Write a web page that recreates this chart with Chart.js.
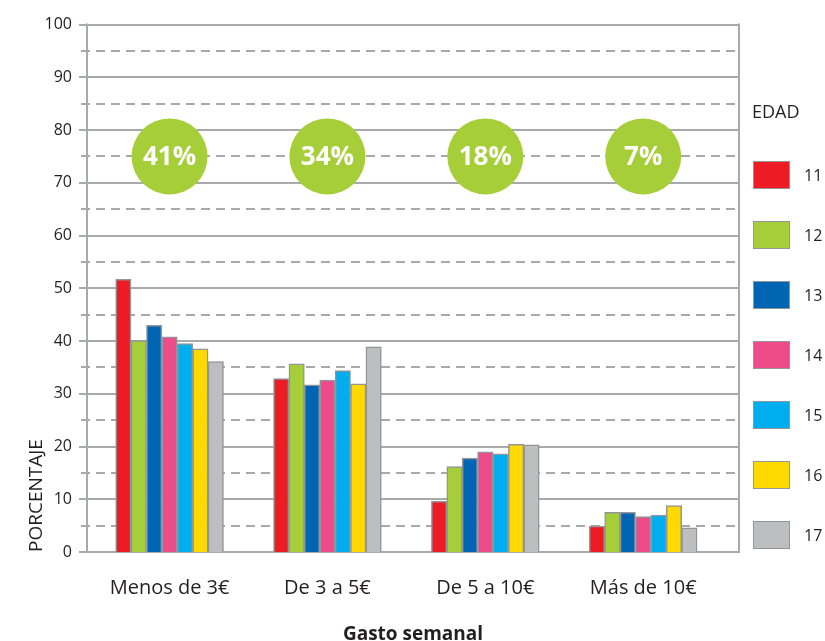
<!DOCTYPE html>
<html>
<head>
<meta charset="utf-8">
<script src="https://cdn.jsdelivr.net/npm/chart.js@4.4.1/dist/chart.umd.min.js"></script>
<style>
  body { margin: 0; background: #fff; }
  #wrap { width: 825px; height: 641px; }
</style>
</head>
<body>
<div id="wrap"><canvas id="gastoChart" width="825" height="641"></canvas></div>
<script>
// Datos (porcentaje por edad y gasto semanal)
const categories = ['Menos de 3€', 'De 3 a 5€', 'De 5 a 10€', 'Más de 10€'];
const ages = ['11', '12', '13', '14', '15', '16', '17'];
const age11 = [51.7, 32.9, 9.6, 4.9];
const age12 = [40.1, 35.7, 16.2, 7.5];
const age13 = [43.0, 31.7, 17.8, 7.5];
const age14 = [40.8, 32.6, 19.0, 6.7];
const age15 = [39.5, 34.4, 18.6, 7.0];
const age16 = [38.5, 31.9, 20.4, 8.8];
const age17 = [36.1, 38.9, 20.3, 4.6];
const shares = ['41%', '34%', '18%', '7%'];
const shareLevel = 75;
const yTicks = [0, 10, 20, 30, 40, 50, 60, 70, 80, 90, 100];

const colors = ['#ed1c24', '#a6ce39', '#0066b3', '#ef4b8b', '#00aeef', '#ffd900', '#bcbec0'];
const gridColor = '#a7a9ac';
const textColor = '#231f20';
const series = [age11, age12, age13, age14, age15, age16, age17];

// Líneas de la cuadrícula y marco del área
const framePlugin = {
    id: 'frame',
    beforeDatasetsDraw(chart) {
        const { ctx, chartArea: a, scales: { y } } = chart;
        ctx.save();
        ctx.strokeStyle = gridColor;
        ctx.lineWidth = 2;
        y.ticks.forEach(t => {
            const py = Math.round(y.getPixelForValue(t.value));
            ctx.beginPath();
            if (t.value % 10 === 0) {
                ctx.setLineDash([]);
                ctx.moveTo(a.left - 8, py);
            } else {
                ctx.setLineDash([9, 6]);
                ctx.moveTo(a.left - 6, py);
            }
            ctx.lineTo(a.right, py);
            ctx.stroke();
        });
        ctx.setLineDash([]);
        ctx.beginPath();
        ctx.moveTo(a.left, a.top - 1);
        ctx.lineTo(a.left, a.bottom + 1);
        ctx.moveTo(a.right, a.top - 1);
        ctx.lineTo(a.right, a.bottom + 1);
        ctx.stroke();
        ctx.restore();
    }
};

// Círculos verdes con el porcentaje total de cada grupo
const sharePlugin = {
    id: 'shares',
    afterDatasetsDraw(chart) {
        const { ctx, scales: { x, y } } = chart;
        ctx.save();
        shares.forEach((s, i) => {
            const px = x.getPixelForValue(i);
            const py = y.getPixelForValue(shareLevel);
            ctx.beginPath();
            ctx.fillStyle = '#a6ce39';
            ctx.arc(px, py, 38, 0, Math.PI * 2);
            ctx.fill();
            ctx.fillStyle = '#fff';
            ctx.font = 'bold 26px "Open Sans"';
            ctx.textAlign = 'center';
            ctx.textBaseline = 'middle';
            ctx.fillText(s, px, py + 1);
        });
        ctx.restore();
    }
};

// Leyenda "EDAD" a la derecha
const legendPlugin = {
    id: 'edadLegend',
    afterDraw(chart) {
        const { ctx } = chart;
        ctx.save();
        ctx.fillStyle = textColor;
        ctx.textBaseline = 'middle';
        ctx.textAlign = 'left';
        ctx.font = '18px "Open Sans"';
        ctx.fillText('EDAD', 752, 113);
        chart.data.datasets.forEach((ds, i) => {
            const cy = 175 + i * 60;
            ctx.fillStyle = ds.backgroundColor;
            ctx.fillRect(753, cy - 14, 37, 28);
            ctx.strokeStyle = '#939598';
            ctx.lineWidth = 1;
            ctx.strokeRect(753.5, cy - 13.5, 36, 27);
            ctx.fillStyle = textColor;
            ctx.font = '16px "Open Sans"';
            ctx.fillText(ds.label, 804, cy + 1);
        });
        ctx.restore();
    }
};

const ctx = document.getElementById('gastoChart').getContext('2d');

new Chart(ctx, {
    type: 'bar',
    data: {
        datasets: ages.map((age, k) => ({
            label: age,
            data: series[k].map((v, i) => ({ x: i, y: v })),
            backgroundColor: colors[k],
            borderColor: '#939598',
            borderWidth: 1.5
        }))
    },
    options: {
        responsive: false,
        animation: false,
        devicePixelRatio: 1,
        datasets: {
            bar: { barThickness: 15.4, categoryPercentage: 1, barPercentage: 1 }
        },
        layout: { padding: { top: 14, right: 86, left: 0, bottom: 0 } },
        plugins: {
            legend: { display: false },
            tooltip: { enabled: false }
        },
        scales: {
            x: {
                type: 'linear',
                offset: false,
                min: -0.523,
                max: 3.607,
                grid: { display: false, drawTicks: false },
                border: { display: false },
                ticks: {
                    stepSize: 1,
                    includeBounds: false,
                    autoSkip: false,
                    maxRotation: 0,
                    padding: 24,
                    color: textColor,
                    font: { family: 'Open Sans', size: 20 },
                    callback: v => categories[v] ?? ''
                },
                title: {
                    display: true,
                    text: 'Gasto semanal',
                    color: textColor,
                    font: { family: 'Open Sans', size: 19, weight: 'bold', lineHeight: 1 },
                    padding: { top: 0, bottom: -3 }
                },
                afterFit: scale => { scale.height = 89; }
            },
            y: {
                min: 0,
                max: 100,
                grid: { display: false, drawTicks: false },
                border: { display: false },
                ticks: {
                    stepSize: 5,
                    autoSkip: false,
                    padding: 15,
                    color: textColor,
                    font: { family: 'Open Sans', size: 16 },
                    callback: v => yTicks.includes(v) ? v : ''
                },
                title: {
                    display: true,
                    text: 'PORCENTAJE',
                    align: 'start',
                    color: textColor,
                    font: { family: 'Open Sans', size: 19 },
                    padding: { top: 25, bottom: 0 }
                },
                afterFit: scale => { scale.width = 87; }
            }
        }
    },
    plugins: [framePlugin, sharePlugin, legendPlugin]
});
</script>
</body>
</html>
